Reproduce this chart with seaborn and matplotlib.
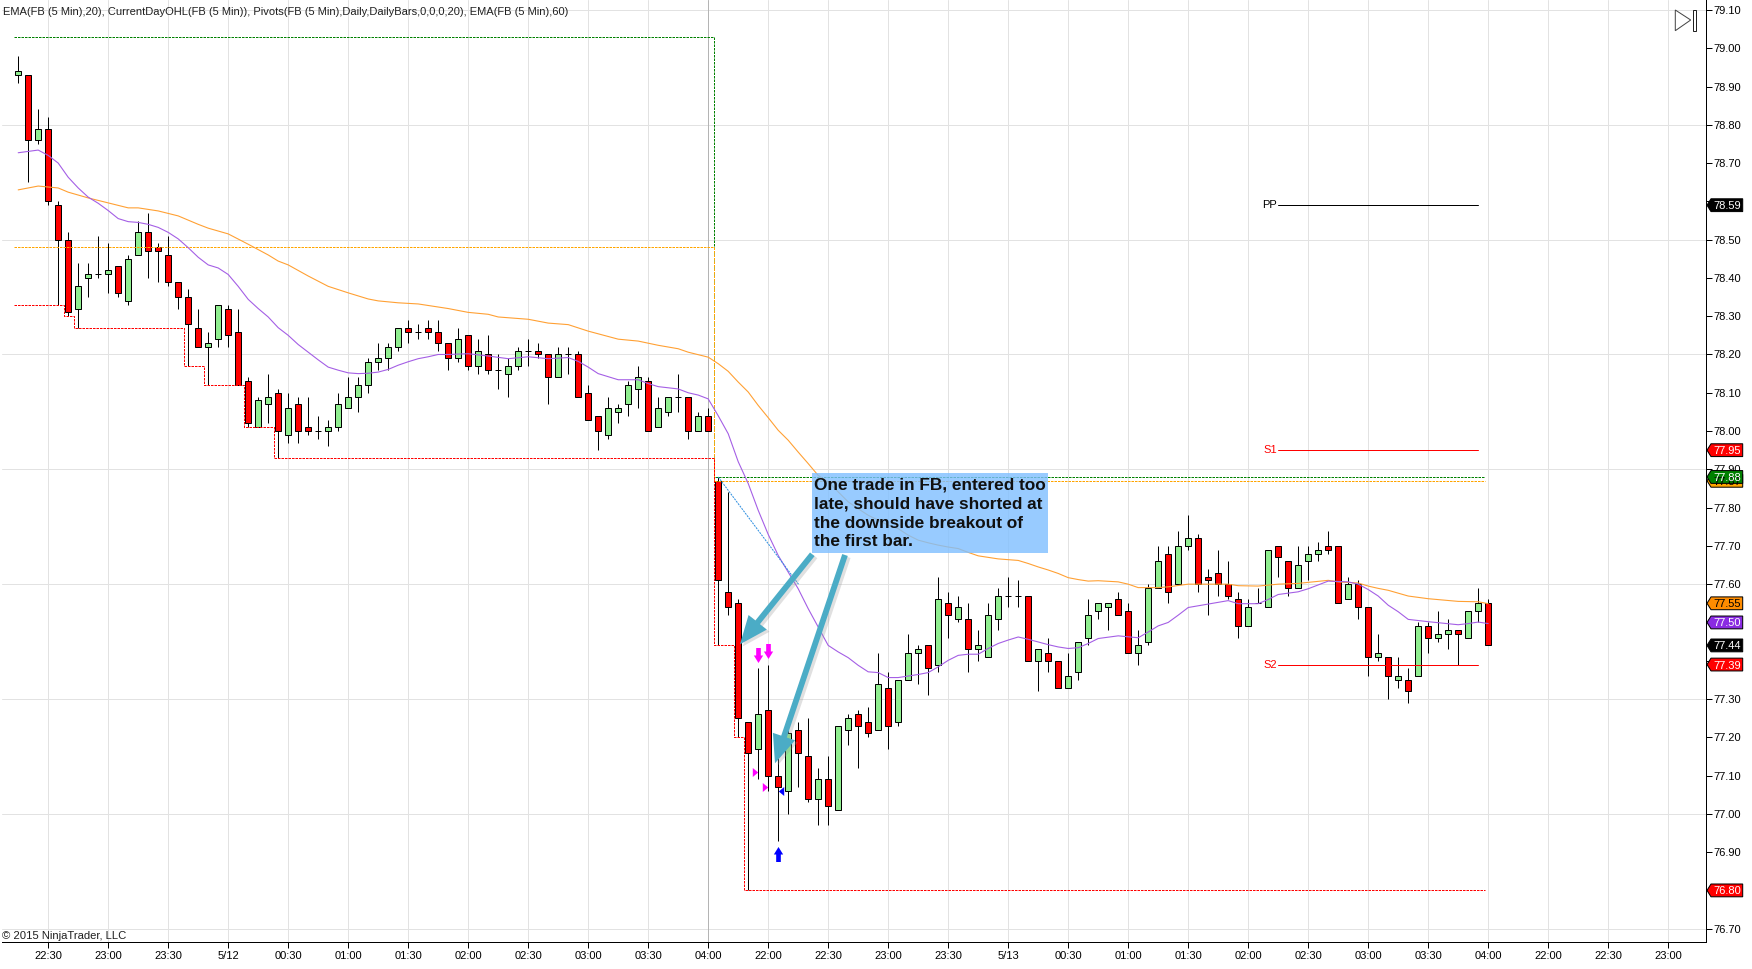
import numpy as np
import pandas as pd
import matplotlib
matplotlib.use("Agg")
import matplotlib.pyplot as plt
import matplotlib.patheffects as pe
from matplotlib.patches import Polygon, Rectangle, FancyArrowPatch
from matplotlib.transforms import IdentityTransform
import seaborn as sns

opens = [78.93,78.93,78.76,78.79,78.59,78.50,78.32,78.40,78.41,78.41,
         78.43,78.34,78.46,78.52,78.48,78.46,78.39,78.35,78.27,78.22,
         78.24,78.32,78.26,78.13,78.01,78.07,78.10,77.99,78.07,78.01,
         78.00,78.00,78.01,78.06,78.09,78.12,78.18,78.19,78.22,78.27,
         78.26,78.27,78.26,78.23,78.19,78.25,78.17,78.20,78.16,78.15,
         78.17,78.21,78.21,78.20,78.14,78.20,78.20,78.10,78.04,77.99,
         78.05,78.07,78.11,78.13,78.01,78.05,78.09,78.09,78.00,78.04,
         77.87,77.58,77.55,77.24,77.17,77.27,77.10,77.06,77.22,77.15,
         77.04,77.09,77.01,77.22,77.26,77.24,77.22,77.33,77.24,77.35,
         77.42,77.44,77.39,77.55,77.51,77.51,77.43,77.41,77.51,77.57,
         77.57,77.57,77.40,77.42,77.40,77.33,77.37,77.46,77.53,77.54,
         77.56,77.53,77.42,77.45,77.59,77.68,77.60,77.70,77.72,77.62,
         77.63,77.60,77.56,77.49,77.55,77.54,77.70,77.66,77.59,77.66,
         77.68,77.70,77.70,77.56,77.60,77.54,77.41,77.41,77.35,77.35,
         77.36,77.49,77.46,77.47,77.48,77.46,77.53,77.55]
closes = [78.94,78.76,78.79,78.60,78.50,78.31,78.38,78.41,78.41,78.42,
          78.36,78.45,78.52,78.47,78.47,78.39,78.35,78.28,78.22,78.23,
          78.33,78.25,78.12,78.02,78.08,78.09,78.00,78.06,78.00,78.00,
          78.00,78.01,78.07,78.09,78.12,78.18,78.19,78.22,78.27,78.26,
          78.26,78.26,78.23,78.19,78.24,78.17,78.21,78.16,78.16,78.17,
          78.21,78.21,78.20,78.14,78.20,78.20,78.09,78.03,78.00,78.06,
          78.06,78.12,78.14,78.00,78.06,78.09,78.09,78.00,78.04,78.00,
          77.61,77.54,77.25,77.16,77.26,77.10,77.07,77.21,77.16,77.04,
          77.09,77.02,77.23,77.25,77.23,77.21,77.34,77.23,77.35,77.42,
          77.43,77.38,77.56,77.52,77.54,77.43,77.44,77.52,77.57,77.57,
          77.57,77.40,77.43,77.40,77.33,77.36,77.45,77.52,77.55,77.55,
          77.52,77.42,77.44,77.59,77.66,77.58,77.70,77.72,77.60,77.61,
          77.60,77.57,77.49,77.54,77.55,77.69,77.67,77.59,77.65,77.68,
          77.69,77.69,77.55,77.60,77.54,77.41,77.42,77.36,77.36,77.32,
          77.49,77.46,77.47,77.48,77.47,77.53,77.55,77.44]
highs = [78.98,78.93,78.84,78.82,78.60,78.52,78.44,78.44,78.51,78.49,
         78.43,78.46,78.55,78.57,78.49,78.51,78.39,78.37,78.32,78.26,
         78.33,78.33,78.32,78.14,78.09,78.15,78.11,78.10,78.09,78.09,
         78.04,78.03,78.10,78.14,78.14,78.19,78.23,78.23,78.27,78.29,
         78.28,78.29,78.29,78.23,78.27,78.25,78.24,78.25,78.20,78.19,
         78.22,78.24,78.23,78.20,78.22,78.22,78.21,78.12,78.04,78.09,
         78.07,78.13,78.17,78.14,78.09,78.09,78.15,78.09,78.05,78.06,
         77.88,77.84,77.56,77.24,77.38,77.39,77.19,77.25,77.24,77.25,
         77.12,77.15,77.23,77.26,77.27,77.28,77.42,77.37,77.35,77.47,
         77.44,77.44,77.62,77.58,77.57,77.55,77.48,77.55,77.59,77.62,
         77.61,77.57,77.43,77.46,77.40,77.42,77.45,77.56,77.55,77.55,
         77.58,77.55,77.48,77.60,77.70,77.70,77.74,77.78,77.73,77.64,
         77.69,77.66,77.58,77.56,77.59,77.69,77.70,77.66,77.70,77.70,
         77.71,77.74,77.70,77.62,77.61,77.54,77.47,77.41,77.41,77.38,
         77.50,77.50,77.53,77.51,77.48,77.53,77.59,77.56]
lows = [78.91,78.65,78.75,78.59,78.33,78.30,78.27,78.35,78.40,78.36,
        78.35,78.33,78.46,78.40,78.39,78.38,78.32,78.17,78.22,78.12,
        78.22,78.22,78.12,78.01,78.01,78.02,77.93,77.97,77.97,77.99,
        77.98,77.96,78.00,78.06,78.05,78.10,78.16,78.16,78.21,78.23,
        78.24,78.24,78.21,78.16,78.18,78.16,78.15,78.15,78.11,78.09,
        78.16,78.17,78.19,78.07,78.14,78.15,78.09,78.03,77.95,77.98,
        78.02,78.04,78.06,78.00,78.01,78.04,78.05,77.98,78.00,78.00,
        77.44,77.52,77.20,76.80,77.09,77.06,76.93,77.00,77.07,77.03,
        76.97,76.97,77.01,77.18,77.12,77.20,77.22,77.17,77.23,77.35,
        77.34,77.31,77.37,77.46,77.50,77.37,77.40,77.41,77.48,77.54,
        77.54,77.40,77.32,77.37,77.33,77.33,77.35,77.44,77.51,77.48,
        77.52,77.42,77.39,77.44,77.59,77.55,77.60,77.69,77.58,77.52,
        77.57,77.56,77.46,77.49,77.55,77.54,77.62,77.57,77.59,77.61,
        77.66,77.68,77.55,77.56,77.51,77.36,77.40,77.30,77.33,77.29,
        77.36,77.42,77.45,77.43,77.39,77.46,77.50,77.44]

ema20_bar = [0,2,3,4,5,6,7,8,9,10,11,12,13,14,15,16,17,18,19,20,21,22,23,24,25,26,27,28,29,30,
             31,32,33,34,35,36,37,38,39,40,41,42,43,45,47,49,51,53,55,56,57,58,59,60,61,62,63,64,65,66,
             67,68,69,70,71,72,73,74,75,76,78,79,80,81,82,83,84,85,86,87,88,89,90,91,92,93,94,95,96,97,
             98,99,100,101,102,103,104,105,106,107,108,110,112,113,114,115,116,117,119,121,122,124,125,126,128,129,
             131,133,134,135,136,137,138,139,141,144,145,146,147]
ema20_val = [78.727,78.734,78.72,78.70,78.663,78.635,78.611,78.595,78.576,78.555,78.547,78.545,78.54,78.532,78.519,78.502,78.479,78.454,78.434,78.426,78.409,78.378,78.344,78.32,78.298,78.27,78.25,78.226,78.206,78.186,
             78.167,78.159,78.152,78.15,78.151,78.154,78.161,78.172,78.181,78.189,78.194,78.20,78.20,78.202,78.196,78.189,78.194,78.189,78.192,78.182,78.167,78.15,78.142,78.134,78.134,78.134,78.124,78.116,78.113,78.11,
             78.10,78.094,78.084,78.04,77.993,77.92,77.863,77.793,77.73,77.675,77.588,77.536,77.488,77.44,77.423,77.408,77.388,77.371,77.369,77.356,77.356,77.36,77.364,77.369,77.384,77.401,77.414,77.417,77.417,77.432,
             77.445,77.454,77.462,77.456,77.449,77.442,77.436,77.432,77.434,77.445,77.458,77.465,77.46,77.475,77.491,77.50,77.519,77.539,77.548,77.557,77.549,77.549,77.56,77.573,77.58,77.588,
             77.608,77.606,77.60,77.586,77.569,77.545,77.528,77.508,77.502,77.494,77.497,77.501,77.497]
ema60_bar = [0,2,4,5,7,9,11,12,14,16,18,19,21,23,25,26,27,29,31,33,35,36,38,40,41,43,45,47,48,51,
             53,55,57,58,60,62,64,66,67,69,70,71,72,73,74,75,76,77,78,79,80,81,82,83,84,85,86,87,88,89,
             90,91,92,93,94,95,96,97,98,99,100,101,102,103,104,105,106,107,108,110,111,112,114,115,117,119,121,122,124,126,
             128,131,132,134,135,136,137,139,141,144,146,147]
ema60_val = [78.63,78.64,78.635,78.624,78.609,78.596,78.583,78.583,78.575,78.562,78.54,78.53,78.515,78.488,78.46,78.444,78.434,78.405,78.378,78.361,78.345,78.34,78.335,78.332,78.328,78.32,78.31,78.305,78.298,78.292,
             78.282,78.278,78.261,78.254,78.24,78.235,78.224,78.215,78.206,78.193,78.176,78.156,78.128,78.102,78.067,78.035,78.002,77.976,77.945,77.915,77.884,77.867,77.841,77.815,77.797,77.78,77.767,77.754,77.745,77.728,
             77.715,77.708,77.702,77.697,77.693,77.683,77.674,77.67,77.666,77.664,77.662,77.654,77.645,77.637,77.628,77.617,77.612,77.608,77.609,77.606,77.60,77.591,77.591,77.593,77.60,77.60,77.60,77.596,77.595,77.60,
             77.602,77.61,77.606,77.603,77.595,77.589,77.584,77.569,77.562,77.555,77.554,77.549]

high_bar = [-0.42,69.55,69.55,146.65]
high_val = [79.03,79.03,77.88,77.88]
open_bar = [-0.42,69.55,69.55,146.65]
open_val = [78.48,78.48,77.87,77.87]
low_bar = [-0.42,4.55,5.55,16.55,18.55,22.55,25.55,69.55,71.55,72.55,146.65]
low_val = [78.33,78.30,78.27,78.17,78.12,78.01,77.93,77.44,77.20,76.80,76.80]
pivot_names = ["PP","S1","S2"]
pivot_vals = [78.59,77.95,77.39]
pivot_colors = ["#000000","#FF0000","#FF0000"]
pivot_span = [126,146]

tick_bars = list(range(3,166,6))
tick_labels = ["22:30","23:00","23:30","5/12","00:30","01:00","01:30","02:00","02:30","03:00","03:30","04:00",
               "22:00","22:30","23:00","23:30","5/13","00:30","01:00","01:30","02:00","02:30","03:00","03:30","04:00",
               "22:00","22:30","23:00"]
y_ticks = [round(79.10-0.1*k,2) for k in range(25)]
hidden_labels = [78.60,77.50,77.40,76.80]
grid_prices = [79.10,78.80,78.50,78.20,77.90,77.60,77.30,77.00,76.70]
tag_vals = [78.59,77.87,77.95,77.88,77.55,77.50,77.44,77.39,76.80]
tag_fill = ["#000000","#FFA500","#FF0000","#008000","#FF8C00","#8A2BE2","#000000","#FF0000","#FF0000"]
tag_text = ["white","black","white","white","black","white","white","white","white"]
note_lines = ["One trade in FB, entered too","late, should have shorted at","the downside breakout of","the first bar."]
top_text = "EMA(FB (5 Min),20), CurrentDayOHL(FB (5 Min)), Pivots(FB (5 Min),Daily,DailyBars,0,0,0,20), EMA(FB (5 Min),60)"
trade_bar = [70,78.03]
trade_val = [77.88,77.60]

sns.set_theme(style="white")
plt.rcParams["font.family"] = ["Liberation Sans","DejaVu Sans"]
W,H = 1752,969
fig = plt.figure(figsize=(W/100,H/100),dpi=100,facecolor="white")
L,R,T,B = 2,1705.7,0,942
X0,XS = 18.2,10
Y0,YS = 124.8,382.8
to_i=lambda x:(x-X0)/XS
to_p=lambda y:78.8-(y-Y0)/YS
ax = fig.add_axes([L/W,(H-B)/H,(R-L)/W,(B-T)/H])
ax.set_xlim(to_i(L),to_i(R))
ax.set_ylim(to_p(B),to_p(T))
px = 0.72

df = pd.DataFrame({"bar":np.arange(len(opens)),"o":opens,"h":highs,"l":lows,"c":closes})
up = df.c>=df.o

ax.set_xticks(tick_bars); ax.set_xticklabels(tick_labels)
ax.set_yticks(y_ticks); ax.set_yticklabels(["" if v in hidden_labels else f"{v:.2f}" for v in y_ticks])
ax.yaxis.tick_right()
ax.tick_params(axis="y",length=6*px,width=px,pad=1.2,labelsize=8,colors="black",right=True,left=False)
ax.tick_params(axis="x",length=6*px,width=px,pad=2,labelsize=8,colors="black",bottom=True)
for s in ["top","left"]:
    ax.spines[s].set_visible(False)
for s in ["right","bottom"]:
    ax.spines[s].set_color("black"); ax.spines[s].set_linewidth(px)
ax.set_axisbelow(True)
ax.grid(axis="x",color="#E2E2E2",lw=px)
for g in grid_prices:
    ax.axhline(g,color="#E2E2E2",lw=px,zorder=0.5)
ax.axvline(69,color="#B4B4B4",lw=px,zorder=0.6)

ax.vlines(df.bar,df.l,df.h,color="black",lw=px,zorder=2)
ax.bar(df.bar,(df.c-df.o).abs(),bottom=df[["o","c"]].min(axis=1),width=0.6,
       color=np.where(up,"#90EE90","#FF0000"),edgecolor="black",linewidth=px,zorder=3)

dash=(0,(2.5,1))
for bx,by,col in [(high_bar,high_val,"#008000"),(open_bar,open_val,"#FFA500"),(low_bar,low_val,"#FF0000")]:
    ds = "steps-post" if col=="#FF0000" else "default"
    sns.lineplot(x=bx,y=by,ax=ax,color=col,lw=px,linestyle=dash,estimator=None,sort=False,
                 drawstyle=ds,zorder=4,legend=False)
sns.lineplot(x=ema60_bar,y=ema60_val,ax=ax,color="#FFA033",lw=1.1*px,estimator=None,sort=False,zorder=4.2)
sns.lineplot(x=ema20_bar,y=ema20_val,ax=ax,color="#A45EE5",lw=1.1*px,estimator=None,sort=False,zorder=4.4)
sns.lineplot(x=trade_bar,y=trade_val,ax=ax,color="#2F8FE0",lw=px,linestyle=(0,(2,1)),estimator=None,sort=False,zorder=4.5)

for n,v,c in zip(pivot_names,pivot_vals,pivot_colors):
    sns.lineplot(x=pivot_span,y=[v,v],ax=ax,color=c,lw=px,estimator=None,zorder=4.6)
    ax.text(pivot_span[0]-0.1,v,n,color=c,ha="right",va="center",fontsize=8,zorder=5)

# trade markers
dn=[(-.31,1),(.31,1),(.31,0),(.62,0),(0,-1),(-.62,0),(-.31,0)]
upm=[(x,-y) for x,y in dn]
rt=[(-.6,1),(.6,0),(-.6,-1)]
lt=[(-x,y) for x,y in rt]
ax.plot([74,75],[77.414,77.426],ls="",marker=dn,ms=15*px,color="#FF00FF",mew=0,zorder=5)
ax.plot([76],[76.896],ls="",marker=upm,ms=15*px,color="#0000FF",mew=0,zorder=5)
ax.plot([73.7,74.7],[77.11,77.07],ls="",marker=rt,ms=9*px,color="#FF00FF",mew=0,zorder=5)
ax.plot([76.25],[77.06],ls="",marker=lt,ms=9*px,color="#0000FF",mew=0,zorder=5)

# note box
ax.add_patch(Rectangle((to_i(812),to_p(552.7)),to_i(1048)-to_i(812),to_p(473.3)-to_p(552.7),
                       facecolor="#7FBFFF",alpha=0.8,edgecolor="none",zorder=6))
for k,line in enumerate(note_lines):
    ax.text(to_i(814),to_p(485+19*k),line,fontsize=12.4,fontweight="bold",family="Liberation Sans",
            color="#101010",va="center",ha="left",zorder=7)
for st,tip in [((812.3,554.3),(740,644.3)),((845,555),(775,763.3))]:
    a=FancyArrowPatch((to_i(st[0]),to_p(st[1])),(to_i(tip[0]),to_p(tip[1])),
                      arrowstyle="simple,head_length=1.45,head_width=1.2,tail_width=0.3",mutation_scale=14,
                      color="#4BACC6",lw=0,shrinkA=0,shrinkB=0,zorder=6.5,
                      path_effects=[pe.SimplePatchShadow(offset=(2,-1.5),shadow_rgbFace="#999999",alpha=0.3),pe.Normal()])
    ax.add_patch(a)

# price tags
yt=ax.get_yaxis_transform()
axw=R-L
fx=lambda x:(x-L)/axw
hh=6.4/YS
for v,f,tc in zip(tag_vals,tag_fill,tag_text):
    ax.add_patch(Polygon([(fx(1707),v),(fx(1711),v+hh),(fx(1742.7),v+hh),(fx(1742.7),v-hh),(fx(1711),v-hh)],
                         closed=True,transform=yt,facecolor=f,edgecolor="black",lw=px,clip_on=False,zorder=8))
    ax.text(fx(1727.5),v,f"{v:.2f}",transform=yt,color=tc,fontsize=8,ha="center",va="center_baseline",clip_on=False,zorder=9)

# top-right icon, header and copyright
pix=IdentityTransform()
fig.add_artist(Polygon([(1675.3,H-10),(1675.3,H-30.7),(1690.7,H-20)],closed=True,transform=pix,
                       facecolor="white",edgecolor="#444444",lw=px))
fig.add_artist(Rectangle((1692.5,H-30.7),3.2,20.7,transform=pix,facecolor="white",edgecolor="#222222",lw=px))
fig.text(3/W,(H-12)/H,top_text,fontsize=8,color="#202020",ha="left",va="center")
fig.text(2.5/W,(H-936)/H,"\u00a9 2015 NinjaTrader, LLC",fontsize=8.1,color="#202020",ha="left",va="center")

assert len(opens)==len(closes)==len(highs)==len(lows)==148
assert len(ema20_bar)==len(ema20_val) and len(ema60_bar)==len(ema60_val)
fig.savefig("out.png",dpi=100,facecolor="white")
